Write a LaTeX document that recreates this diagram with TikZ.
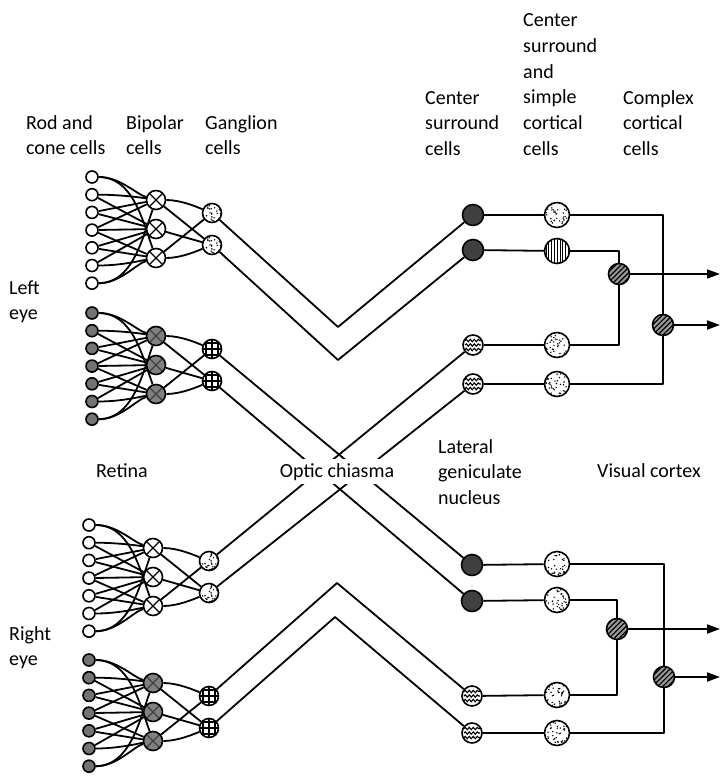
\documentclass[tikz,border=0pt]{standalone}
\usepackage{fontspec}
\setmainfont{Carlito}
\usetikzlibrary{arrows.meta,patterns.meta,calc,decorations.pathmorphing}
\newcommand\mlines[1]{\begin{tabular}[t]{@{}l@{}}#1\end{tabular}}
\tikzset{
  wire/.style={line width=1.8pt, line join=round},
  cell/.style={circle, draw, line width=1.6pt, inner sep=0pt},
  rodw/.style={cell, minimum size=12pt, fill=white},
  rodd/.style={cell, minimum size=12pt, fill=black!55},
  xmark/.style={path picture={\draw[line width=1.3pt,#1] (path picture bounding box.south west) -- (path picture bounding box.north east) (path picture bounding box.north west) -- (path picture bounding box.south east);}},
  bipw/.style={cell, minimum size=19pt, fill=white, xmark=black},
  bipd/.style={cell, minimum size=19pt, fill=black!50, xmark=black!75},
  stip/.style={path picture={\pgfmathsetseed{#1}\foreach \k in {1,...,36}{\fill[black] ($(path picture bounding box.center)+({11*rand},{11*rand})$) circle (0.8pt);}}},
  gang/.style={cell, minimum size=19pt, fill=white, stip=#1},
  gang/.default=3,
  window/.style={cell, minimum size=19pt, fill=white, path picture={\begin{scope}[shift={(path picture bounding box.center)}]\draw[line width=1.1pt] (-6,-6) rectangle (6,6) (-10,0) -- (10,0) (0,-10) -- (0,10);\end{scope}}},
  squig/.style={cell, minimum size=20pt, fill=white, path picture={\begin{scope}[shift={(path picture bounding box.center)}]
     \draw[line width=1.1pt, decorate, decoration={snake,amplitude=1.2pt,segment length=4pt}] (-8,-4.5) -- (8,-4.5);
     \draw[line width=1.1pt, decorate, decoration={snake,amplitude=1.2pt,segment length=4pt}] (-8,0) -- (8,0);
     \draw[line width=1.1pt, decorate, decoration={snake,amplitude=1.2pt,segment length=4pt}] (-8,4.5) -- (8,4.5);\end{scope}}},
  lgnd/.style={cell, minimum size=21pt, fill=black!75},
  simp/.style={cell, minimum size=25pt, fill=white, stip=#1},
  simp/.default=7,
  vstr/.style={cell, minimum size=25pt, preaction={fill=white}, pattern={Lines[angle=90,distance=2.8pt,line width=1pt]}},
  cplx/.style={cell, minimum size=21pt, preaction={fill=black!40}, pattern={Lines[angle=45,distance=3.6pt,line width=1.2pt]}},
  arr/.style={wire, -{Triangle[length=13pt,width=9pt]}},
  lab/.style={anchor=base west, inner sep=0pt, font=\fontsize{20}{25.6}\selectfont},
}
\newcommand\retblock[7]{%
  \foreach \i in {1,...,7}{\node[#4] (#1r\i) at (#2, {#3+17.7*(\i-1)}) {};}
  \node[#5] (#1b1) at ({#2+64},{#3+23}) {};
  \node[#5] (#1b2) at ({#2+64},{#3+52}) {};
  \node[#5] (#1b3) at ({#2+64},{#3+81}) {};
  \node[#6=#7] (#1g1) at ({#2+120},{#3+36}) {};
  \node[#6=#7] (#1g2) at ({#2+120},{#3+68}) {};
  \draw[wire] (#1r1) .. controls +(28,0) and +(-20,-6) .. (#1b1);
  \draw[wire] (#1r1) .. controls +(40,0) and +(-14,-40) .. (#1b3);
  \draw[wire] (#1r2) .. controls +(30,0) and +(-12,-2) .. (#1b1);
  \draw[wire] (#1r2) -- (#1b2);
  \draw[wire] (#1r3) -- (#1b1);
  \draw[wire] (#1r3) -- (#1b2);
  \draw[wire] (#1r4) -- (#1b1);
  \draw[wire] (#1r4) -- (#1b2);
  \draw[wire] (#1r4) -- (#1b3);
  \draw[wire] (#1r5) -- (#1b2);
  \draw[wire] (#1r5) -- (#1b3);
  \draw[wire] (#1r6) -- (#1b2);
  \draw[wire] (#1r6) .. controls +(30,0) and +(-12,2) .. (#1b3);
  \draw[wire] (#1r7) .. controls +(28,0) and +(-20,6) .. (#1b3);
  \draw[wire] (#1r7) .. controls +(40,0) and +(-14,40) .. (#1b1);
  \draw[wire] (#1b1) .. controls +(25,0) and +(-15,-6) .. (#1g1);
  \draw[wire] (#1b1) -- (#1g2);
  \draw[wire] (#1b2) -- (#1g2);
  \draw[wire] (#1b3) -- (#1g1);
  \draw[wire] (#1b3) .. controls +(25,0) and +(-15,6) .. (#1g2);
}
\begin{document}
\begin{tikzpicture}[x=1pt,y=-1pt]
\useasboundingbox (0,0) rectangle (721,779);
% retina blocks
\retblock{a}{92}{177}{rodw}{bipw}{gang}{3}
\retblock{b}{92}{313}{rodd}{bipd}{window}{1}
\retblock{c}{89}{525}{rodw}{bipw}{gang}{11}
\retblock{d}{89}{660}{rodd}{bipd}{window}{1}
% LGN
\node[lgnd] (L1) at (473,215) {};
\node[lgnd] (L2) at (473,250) {};
\node[squig] (L3) at (473,345) {};
\node[squig] (L4) at (473,384) {};
\node[lgnd] (L5) at (472,565) {};
\node[lgnd] (L6) at (472,601) {};
\node[squig] (L7) at (472,696) {};
\node[squig] (L8) at (472,733) {};
% simple cortical
\node[simp=21] (S1) at (557,215) {};
\node[vstr] (S2) at (557,251) {};
\node[simp=22] (S3) at (557,345) {};
\node[simp=23] (S4) at (557,384) {};
\node[simp=24] (S5) at (557,564) {};
\node[simp=25] (S6) at (557,600) {};
\node[simp=26] (S7) at (557,695) {};
\node[simp=27] (S8) at (557,733) {};
% complex
\node[cplx] (C1) at (619,274) {};
\node[cplx] (C2) at (663,325) {};
\node[cplx] (C3) at (617,629) {};
\node[cplx] (C4) at (664,677) {};
% optic nerves
\coordinate (v1) at (338,327);
\coordinate (v2) at (338,360);
\coordinate (v3) at (337,583);
\coordinate (v4) at (335,617);
\draw[wire] (ag1) -- (v1) -- (L1);
\draw[wire] (ag2) -- (v2) -- (L2);
\draw[wire] (bg1) -- (L5);
\draw[wire] (bg2) -- (L6);
\draw[wire] (cg1) -- (L3);
\draw[wire] (cg2) -- (L4);
\draw[wire] (dg1) -- (v3) -- (L7);
\draw[wire] (dg2) -- (v4) -- (L8);
% LGN to cortex
\foreach \n in {1,...,8}{\draw[wire] (L\n) -- (S\n);}
\draw[wire] (S1) -| (C2);
\draw[wire] (S4) -| (C2);
\draw[wire] (S2) -| (C1);
\draw[wire] (S3) -| (C1);
\draw[wire] (S5) -| (C4);
\draw[wire] (S8) -| (C4);
\draw[wire] (S6) -| (C3);
\draw[wire] (S7) -| (C3);
\coordinate (e1) at (720,274);
\coordinate (e2) at (720,325);
\coordinate (e3) at (720,629);
\coordinate (e4) at (720,677);
\draw[arr] (C1) -- (e1);
\draw[arr] (C2) -- (e2);
\draw[arr] (C3) -- (e3);
\draw[arr] (C4) -- (e4);
% labels
\node[lab] (t1) at (26,129) {\mlines{Rod and\\cone cells}};
\node[lab] (t2) at (126,129) {\mlines{Bipolar\\cells}};
\node[lab] (t3) at (205,129) {\mlines{Ganglion\\cells}};
\node[lab] (t4) at (425,104) {\mlines{Center\\surround\\cells}};
\node[lab] (t5) at (523,27) {\mlines{Center\\surround\\and\\simple\\cortical\\cells}};
\node[lab] (t6) at (623,104) {\mlines{Complex\\cortical\\cells}};
\node[lab] (t7) at (9,294) {\mlines{Left\\eye}};
\node[lab] (t8) at (9,640) {\mlines{Right\\eye}};
\node[lab] (t9) at (96,477) {Retina};
\node[lab] (t10) at (438,453) {\mlines{Lateral\\geniculate\\nucleus}};
\node[lab] (t11) at (597,477) {Visual cortex};
\node[anchor=base, fill=white, inner xsep=2pt, inner ysep=4pt, font=\fontsize{20}{25.6}\selectfont] (t12) at (337,477) {Optic chiasma};
\end{tikzpicture}
\end{document}
